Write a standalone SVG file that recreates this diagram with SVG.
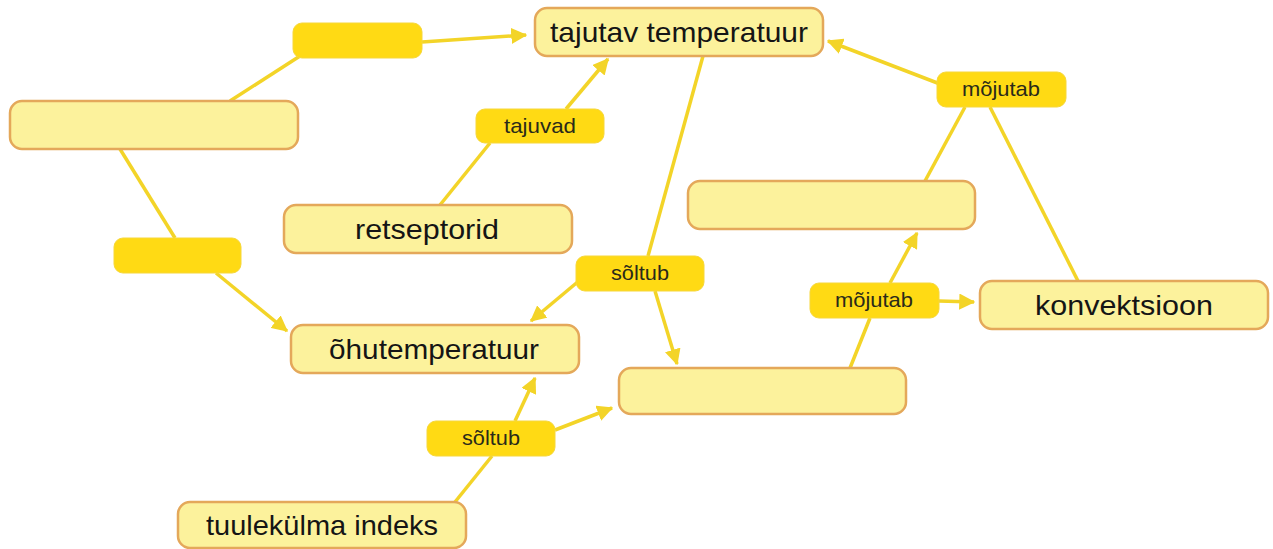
<svg xmlns="http://www.w3.org/2000/svg" width="1273" height="549" viewBox="0 0 1273 549">
<style>
.node rect{fill:#FCF29C;stroke:#E4A85A;stroke-width:2.5}
.lbl rect{fill:#FFDA14;stroke:#F6D73A;stroke-width:1}
.nt{font-family:"Liberation Sans",Arial,sans-serif;font-size:28px;fill:#151515;text-anchor:middle}
.lt{font-family:"Liberation Sans",Arial,sans-serif;font-size:21px;fill:#2a2a1a;text-anchor:middle}
.c line{stroke:#F3D428;stroke-width:3.5;fill:none}
</style>
<defs>
<marker id="ah" viewBox="0 0 12 12" refX="11" refY="6" markerWidth="4.6" markerHeight="4.6" orient="auto" markerUnits="strokeWidth">
<path d="M0,0 L12,6 L0,12 Z" fill="#F3D428"/>
</marker>
</defs>
<g id="connectors" class="c">
<line x1="230" y1="101" x2="300" y2="56"/>
<line x1="422" y1="42" x2="526" y2="35" marker-end="url(#ah)"/>
<line x1="120" y1="149" x2="175" y2="238"/>
<line x1="216" y1="273" x2="287" y2="331" marker-end="url(#ah)"/>
<line x1="440" y1="205" x2="490" y2="143"/>
<line x1="566" y1="109" x2="608" y2="59" marker-end="url(#ah)"/>
<line x1="703" y1="56" x2="648" y2="256"/>
<line x1="580" y1="280" x2="531" y2="321" marker-end="url(#ah)"/>
<line x1="655" y1="291" x2="677" y2="364" marker-end="url(#ah)"/>
<line x1="455" y1="502" x2="492" y2="456"/>
<line x1="515" y1="421" x2="535" y2="378" marker-end="url(#ah)"/>
<line x1="555" y1="430" x2="612" y2="408" marker-end="url(#ah)"/>
<line x1="850" y1="368" x2="870" y2="318"/>
<line x1="890" y1="283" x2="917" y2="233" marker-end="url(#ah)"/>
<line x1="939" y1="301" x2="974" y2="302" marker-end="url(#ah)"/>
<line x1="925" y1="181" x2="965" y2="107"/>
<line x1="1078" y1="281" x2="990" y2="107"/>
<line x1="940" y1="84" x2="828" y2="41" marker-end="url(#ah)"/>
</g>
<g id="n-tajutav" class="node"><rect x="535" y="8" width="288" height="48" rx="12"/><text class="nt" x="679" y="42" textLength="258" lengthAdjust="spacingAndGlyphs">tajutav temperatuur</text></g>
<g id="n-left" class="node"><rect x="10" y="101" width="288" height="48" rx="12"/></g>
<g id="n-retseptorid" class="node"><rect x="284" y="205" width="288" height="48" rx="12"/><text class="nt" x="427" y="239" textLength="144" lengthAdjust="spacingAndGlyphs">retseptorid</text></g>
<g id="n-ohutemp" class="node"><rect x="291" y="325" width="288" height="48" rx="12"/><text class="nt" x="434" y="359" textLength="210" lengthAdjust="spacingAndGlyphs">õhutemperatuur</text></g>
<g id="n-rightmid" class="node"><rect x="688" y="181" width="287" height="48" rx="12"/></g>
<g id="n-konvektsioon" class="node"><rect x="980" y="281" width="288" height="48" rx="12"/><text class="nt" x="1124" y="315" textLength="178" lengthAdjust="spacingAndGlyphs">konvektsioon</text></g>
<g id="n-bottommid" class="node"><rect x="619" y="368" width="287" height="46" rx="12"/></g>
<g id="n-tuulekulma" class="node"><rect x="178" y="502" width="288" height="46" rx="12"/><text class="nt" x="322" y="535" textLength="232" lengthAdjust="spacingAndGlyphs">tuulekülma indeks</text></g>
<g id="l-top" class="lbl"><rect x="293" y="23" width="129" height="35" rx="9"/></g>
<g id="l-tajuvad" class="lbl"><rect x="476" y="109" width="128" height="34" rx="9"/><text class="lt" x="540" y="133" textLength="72" lengthAdjust="spacingAndGlyphs">tajuvad</text></g>
<g id="l-left" class="lbl"><rect x="114" y="238" width="127" height="35" rx="9"/></g>
<g id="l-soltub1" class="lbl"><rect x="576" y="256" width="128" height="35" rx="9"/><text class="lt" x="640" y="280" textLength="58" lengthAdjust="spacingAndGlyphs">sõltub</text></g>
<g id="l-mojutab1" class="lbl"><rect x="937" y="72" width="129" height="35" rx="9"/><text class="lt" x="1001" y="96" textLength="78" lengthAdjust="spacingAndGlyphs">mõjutab</text></g>
<g id="l-mojutab2" class="lbl"><rect x="810" y="283" width="129" height="35" rx="9"/><text class="lt" x="874" y="307" textLength="78" lengthAdjust="spacingAndGlyphs">mõjutab</text></g>
<g id="l-soltub2" class="lbl"><rect x="427" y="421" width="128" height="35" rx="9"/><text class="lt" x="491" y="445" textLength="58" lengthAdjust="spacingAndGlyphs">sõltub</text></g>
</svg>
